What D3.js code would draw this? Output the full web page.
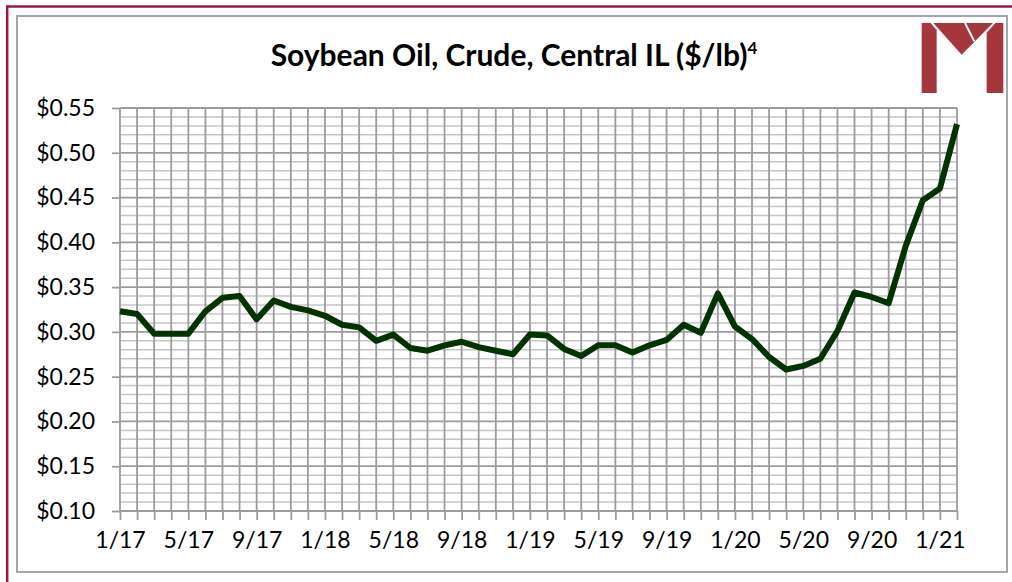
<!DOCTYPE html>
<html lang="en">
<head>
    <meta charset="UTF-8">
    <title>Soybean Oil</title>
    <script src="https://d3js.org/d3.v7.min.js"></script>
    <style>
        body { margin: 0; background: #fff; }
        text { font-family: Lato, "Open Sans", sans-serif; }
    </style>
</head>
<body>
    <svg></svg>
    <script>
        // monthly categories, 1/17 .. 2/21
        var months = ["1/17","2/17","3/17","4/17","5/17","6/17","7/17","8/17","9/17","10/17","11/17","12/17",
                      "1/18","2/18","3/18","4/18","5/18","6/18","7/18","8/18","9/18","10/18","11/18","12/18",
                      "1/19","2/19","3/19","4/19","5/19","6/19","7/19","8/19","9/19","10/19","11/19","12/19",
                      "1/20","2/20","3/20","4/20","5/20","6/20","7/20","8/20","9/20","10/20","11/20","12/20",
                      "1/21","2/21"];
        // price, $/lb
        var prices = [0.323,0.320,0.298,0.298,0.298,0.323,0.338,0.340,0.314,0.335,0.328,0.324,
                      0.318,0.308,0.305,0.290,0.297,0.282,0.279,0.285,0.289,0.283,0.279,0.275,
                      0.297,0.296,0.281,0.273,0.285,0.285,0.277,0.285,0.291,0.308,0.299,0.343,
                      0.306,0.292,0.272,0.258,0.262,0.270,0.301,0.344,0.339,0.332,0.396,0.447,
                      0.460,0.532];
        var yTicks = [0.10,0.15,0.20,0.25,0.30,0.35,0.40,0.45,0.50,0.55];
        var title = "Soybean Oil, Crude, Central IL ($/lb)";

        var W = 1012, H = 582;
        var svg = d3.select("svg").attr("width", W).attr("height", H);

        // outer frame
        svg.append("rect").attr("x",17).attr("y",16).attr("width",990).attr("height",556)
            .attr("fill","#fff").attr("stroke","#a6a6a6").attr("stroke-width",2);
        svg.append("line").attr("x1",7).attr("x2",W).attr("y1",6.5).attr("y2",6.5)
            .attr("stroke","#a0144a").attr("stroke-width",2.5);
        svg.append("line").attr("x1",7.2).attr("x2",7.2).attr("y1",5.3).attr("y2",H)
            .attr("stroke","#a0144a").attr("stroke-width",2.5);

        var x = d3.scalePoint().domain(months).range([120, 957]);
        var y = d3.scaleLinear().domain([0.10, 0.55]).range([511, 108]);

        // minor horizontal grid every 0.01
        var minor = d3.range(10, 56).map(function(v){ return v/100; });
        svg.append("g").selectAll("line")
            .data(minor.filter(function(v){ return Math.round(v*100) % 5 !== 0; }))
            .enter().append("line")
            .attr("x1",120).attr("x2",957)
            .attr("y1",function(d){ return y(d); }).attr("y2",function(d){ return y(d); })
            .attr("stroke","#c6c6c6").attr("stroke-width",1.5);
        // vertical grid per month
        svg.append("g").selectAll("line").data(months).enter().append("line")
            .attr("x1",function(d){ return x(d); }).attr("x2",function(d){ return x(d); })
            .attr("y1",108).attr("y2",511)
            .attr("stroke","#9c9c9c").attr("stroke-width",1.8);
        // major horizontal grid
        svg.append("g").selectAll("line").data(yTicks).enter().append("line")
            .attr("x1",120).attr("x2",957)
            .attr("y1",function(d){ return y(d); }).attr("y2",function(d){ return y(d); })
            .attr("stroke","#9c9c9c").attr("stroke-width",1.8);

        // axes
        var yAxis = svg.append("g").attr("transform","translate(120,0)")
            .call(d3.axisLeft(y).tickValues(yTicks).tickSize(8).tickPadding(17)
                .tickFormat(function(d){ return "$" + d.toFixed(2); }));
        var xAxis = svg.append("g").attr("transform","translate(0,511)")
            .call(d3.axisBottom(x).tickSize(9).tickPadding(6)
                .tickFormat(function(d,i){ return i % 4 === 0 ? d : ""; }));
        [yAxis, xAxis].forEach(function(a){
            a.select(".domain").remove();
            a.selectAll(".tick line").attr("stroke","#9c9c9c").attr("stroke-width",1.8);
            a.selectAll(".tick text").attr("fill","#000").attr("font-size",23)
                .attr("font-family","Lato, sans-serif");
        });
        xAxis.selectAll(".tick text").attr("dy","0.95em");

        // price line
        var line = d3.line()
            .x(function(d,i){ return x(months[i]); })
            .y(function(d){ return y(d); });
        svg.append("path").datum(prices)
            .attr("d", line)
            .attr("fill","none")
            .attr("stroke","#013300")
            .attr("stroke-width",6)
            .attr("stroke-linejoin","round");

        // title
        var t = svg.append("text").attr("x",514).attr("y",66)
            .attr("text-anchor","middle").attr("font-size",30).attr("font-weight","bold")
            .attr("fill","#000").text(title);
        t.append("tspan").attr("dy",-12).attr("font-size",17).text("4");

        // logo
        var logo = svg.append("g").attr("transform","translate(915,18) scale(0.3333)")
            .attr("fill","#a5363c");
        logo.append("polygon").attr("points","20,15 47,15 65,37 65,225 20,225");
        logo.append("polygon").attr("points","241,15 265,15 265,225 215,225 215,44");
        logo.append("polygon").attr("points","55,15 234,15 140,110");
        logo.append("line").attr("x1",150).attr("y1",15).attr("x2",178).attr("y2",70)
            .attr("stroke","#fff").attr("stroke-width",6);
    </script>
</body>
</html>
